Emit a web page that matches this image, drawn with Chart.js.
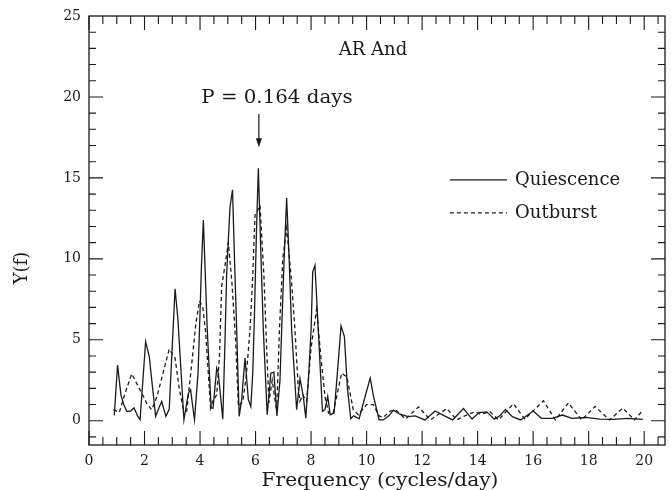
<!DOCTYPE html>
<html>
<head>
<meta charset="utf-8">
<script src="https://cdn.jsdelivr.net/npm/chart.js@4"></script>
<style>
  html, body { margin: 0; padding: 0; background: #fff; }
  canvas { display: block; }
</style>
</head>
<body>
<canvas id="periodogram" width="671" height="490"></canvas>
<script>
// power spectrum, quiescent light curve
const freqQuiescence = [
  0.91, 1.03, 1.15, 1.25, 1.36, 1.5, 1.62, 1.75, 1.84, 2.04, 2.17, 2.4, 2.52, 2.62, 2.77, 2.89,
  3.1, 3.2, 3.42, 3.58, 3.66, 3.8, 3.93, 3.98, 4.05, 4.12, 4.19, 4.26, 4.4, 4.47, 4.6, 4.66,
  4.82, 4.9, 4.96, 5.08, 5.17, 5.25, 5.32, 5.41, 5.5, 5.62, 5.74, 5.83, 5.9, 5.96, 6.03, 6.1,
  6.18, 6.28, 6.42, 6.55, 6.66, 6.77, 6.88, 6.94, 7.03, 7.12, 7.21, 7.3, 7.48, 7.6, 7.72, 7.81,
  7.92, 8.0, 8.06, 8.14, 8.26, 8.41, 8.5, 8.6, 8.69, 8.83, 8.95, 9.08, 9.2, 9.31, 9.43, 9.53,
  9.73, 9.9, 10.13, 10.25, 10.45, 10.6, 10.8, 10.97, 11.2, 11.5, 11.75, 12.1, 12.47, 12.75,
  13.1, 13.49, 13.8, 14.05, 14.33, 14.6, 14.8, 15.0, 15.25, 15.55, 16.0, 16.3, 16.7, 17.05,
  17.4, 17.9, 18.4, 18.9, 19.4, 19.95
];
const powerQuiescence = [
  0.33, 3.44, 1.6, 1.0, 0.58, 0.6, 0.8, 0.3, 0.06, 4.88, 3.97, 0.27, 0.8, 1.19, 0.27, 0.72,
  8.15, 6.34, 0.06, 1.7, 1.91, 0.06, 3.0, 5.6, 9.5, 12.4, 9.0, 5.6, 0.78, 0.78, 3.25, 2.9,
  0.1, 5.0, 9.1, 13.2, 14.26, 9.5, 5.6, 0.27, 1.3, 3.87, 1.3, 0.88, 3.0, 6.5, 11.5, 15.6,
  11.0, 5.6, 0.37, 2.94, 3.0, 0.3, 2.5, 5.6, 10.0, 13.75, 10.0, 5.6, 0.68, 2.6, 1.5, 0.16,
  3.0, 5.6, 9.2, 9.6, 5.6, 0.58, 0.68, 1.5, 0.37, 0.48, 3.0, 5.86, 5.2, 2.0, 0.12, 0.3,
  0.12, 1.2, 2.63, 1.5, 0.06, 0.05, 0.3, 0.65, 0.4, 0.25, 0.3, 0.05, 0.6, 0.35,
  0.05, 0.75, 0.1, 0.5, 0.55, 0.1, 0.3, 0.7, 0.25, 0.05, 0.6, 0.15, 0.15, 0.35,
  0.15, 0.2, 0.1, 0.08, 0.15, 0.08
];

// power spectrum, outburst light curve
const freqOutburst = [
  0.88, 1.09, 1.3, 1.54, 1.75, 1.96, 2.1, 2.26, 2.45, 2.62, 2.89, 3.1, 3.25, 3.4, 3.52, 3.7,
  3.85, 3.98, 4.1, 4.2, 4.38, 4.45, 4.6, 4.7, 4.78, 4.9, 5.02, 5.15, 5.28, 5.38, 5.54, 5.66,
  5.8, 5.9, 5.98, 6.08, 6.16, 6.3, 6.4, 6.48, 6.6, 6.76, 6.86, 6.98, 7.12, 7.25, 7.3, 7.42,
  7.54, 7.6, 7.7, 7.84, 8.0, 8.2, 8.35, 8.5, 8.63, 8.8, 9.1, 9.29, 9.52, 9.7, 10.0, 10.24,
  10.45, 10.6, 10.85, 11.05, 11.4, 11.87, 12.3, 12.89, 13.25, 13.6, 13.9, 14.1, 14.45, 14.75,
  15.29, 15.7, 16.37, 16.8, 17.27, 17.75, 18.23, 18.75, 19.23, 19.65, 19.92
];
const powerOutburst = [
  0.68, 0.51, 1.7, 2.9, 2.2, 1.5, 1.0, 0.68, 1.5, 2.63, 4.42, 3.87, 2.0, 0.68, 0.6, 3.5,
  6.0, 7.4, 7.0, 5.5, 0.78, 1.2, 1.6, 4.0, 8.3, 9.6, 11.0, 8.5, 5.0, 0.9, 1.19, 2.67,
  5.6, 9.0, 12.7, 13.0, 13.3, 9.0, 4.5, 1.1, 2.5, 0.58, 5.6, 10.0, 11.9, 9.5, 8.5, 5.6,
  2.0, 1.2, 1.6, 1.2, 4.5, 6.9, 4.0, 1.5, 0.47, 0.5, 2.94, 2.7, 0.68, 0.37, 1.0, 1.0,
  0.3, 0.2, 0.6, 0.65, 0.1, 0.85, 0.05, 0.75, 0.05, 0.35, 0.55, 0.4, 0.55, 0.05,
  1.05, 0.1, 1.23, 0.05, 1.1, 0.05, 0.88, 0.05, 0.78, 0.05, 0.57
];

const xTickLabels = [0, 2, 4, 6, 8, 10, 12, 14, 16, 18, 20];
const yTickLabels = [0, 5, 10, 15, 20, 25];
const seriesNames = ["Quiescence", "Outburst"];

const INK = "#1a1a1a";
const SERIF = '"DejaVu Serif", serif';

function pairs(xs, ys) {
  return xs.map((x, i) => ({x: x, y: ys[i]}));
}

// text drawn a little wider than the font's natural width
function wideText(ctx, text, x, y, stretch) {
  ctx.save();
  ctx.translate(x, y);
  ctx.scale(stretch, 1);
  ctx.fillText(text, 0, 0);
  ctx.restore();
}

// frame with inward ticks on all four sides, labels and annotations
const framePlugin = {
  id: "frame",
  afterDraw(chart) {
    const ctx = chart.ctx;
    const xs = chart.scales.x;
    const ys = chart.scales.y;
    const a = chart.chartArea;

    ctx.save();
    ctx.strokeStyle = INK;
    ctx.fillStyle = INK;
    ctx.lineWidth = 1.3;
    ctx.strokeRect(a.left, a.top, a.right - a.left, a.bottom - a.top);

    ctx.lineWidth = 1.1;
    ctx.beginPath();
    for (let v = 0; v <= 20.5; v += 0.5) {
      const px = xs.getPixelForValue(v);
      const len = (v % 2 === 0) ? 14 : 8;
      ctx.moveTo(px, a.bottom); ctx.lineTo(px, a.bottom - len);
      ctx.moveTo(px, a.top); ctx.lineTo(px, a.top + len);
    }
    for (let v = -1; v <= 24; v += 1) {
      const py = ys.getPixelForValue(v);
      const len = (v % 5 === 0) ? 14 : 7;
      ctx.moveTo(a.left, py); ctx.lineTo(a.left + len, py);
      ctx.moveTo(a.right, py); ctx.lineTo(a.right - len, py);
    }
    ctx.stroke();

    ctx.font = "14px " + SERIF;
    ctx.textAlign = "center";
    ctx.textBaseline = "middle";
    xTickLabels.forEach(v => ctx.fillText(String(v), xs.getPixelForValue(v), 461));
    ctx.textAlign = "right";
    yTickLabels.forEach(v => ctx.fillText(String(v), 81, ys.getPixelForValue(v)));

    ctx.font = "18px " + SERIF;
    ctx.textAlign = "center";
    wideText(ctx, "Frequency (cycles/day)", 380, 481, 1.12);
    ctx.save();
    ctx.translate(22, 268);
    ctx.rotate(-Math.PI / 2);
    ctx.fillText("Y(f)", 0, 0);
    ctx.restore();

    ctx.fillText("AR And", xs.getPixelForValue(10.23), ys.getPixelForValue(22.9));
    wideText(ctx, "P = 0.164 days", xs.getPixelForValue(6.77), ys.getPixelForValue(19.94), 1.1);

    // arrow marking the orbital frequency
    const ax = xs.getPixelForValue(6.12);
    const y0 = ys.getPixelForValue(18.95);
    const y1 = ys.getPixelForValue(16.9);
    ctx.lineWidth = 1.2;
    ctx.beginPath();
    ctx.moveTo(ax, y0); ctx.lineTo(ax, y1 - 6);
    ctx.stroke();
    ctx.beginPath();
    ctx.moveTo(ax, y1); ctx.lineTo(ax - 3, y1 - 9); ctx.lineTo(ax + 3, y1 - 9);
    ctx.closePath();
    ctx.fill();

    // legend
    const lx0 = xs.getPixelForValue(13.0);
    const lx1 = xs.getPixelForValue(15.06);
    const tx = xs.getPixelForValue(15.35);
    const rows = [ys.getPixelForValue(14.88), ys.getPixelForValue(12.84)];
    ctx.textAlign = "left";
    rows.forEach((py, i) => {
      const ds = chart.data.datasets[i];
      ctx.lineWidth = ds.borderWidth;
      ctx.setLineDash(ds.borderDash || []);
      ctx.beginPath();
      ctx.moveTo(lx0, py); ctx.lineTo(lx1, py);
      ctx.stroke();
      ctx.setLineDash([]);
      ctx.fillText(seriesNames[i], tx, py);
    });
    ctx.restore();
  }
};

new Chart(document.getElementById("periodogram"), {
  type: "line",
  data: {
    datasets: [
      {
        label: seriesNames[0],
        data: pairs(freqQuiescence, powerQuiescence),
        borderColor: INK,
        borderWidth: 1.3,
        pointRadius: 0,
        tension: 0,
      },
      {
        label: seriesNames[1],
        data: pairs(freqOutburst, powerOutburst),
        borderColor: INK,
        borderWidth: 1.3,
        borderDash: [4, 3],
        pointRadius: 0,
        tension: 0,
      }
    ]
  },
  options: {
    responsive: false,
    animation: false,
    layout: {padding: {left: 89, right: 6, top: 16, bottom: 45}},
    scales: {
      x: {type: "linear", min: 0, max: 20.75, display: false},
      y: {min: -1.5, max: 25, display: false}
    },
    plugins: {
      legend: {display: false},
      tooltip: {enabled: false}
    }
  },
  plugins: [framePlugin]
});
</script>
</body>
</html>
